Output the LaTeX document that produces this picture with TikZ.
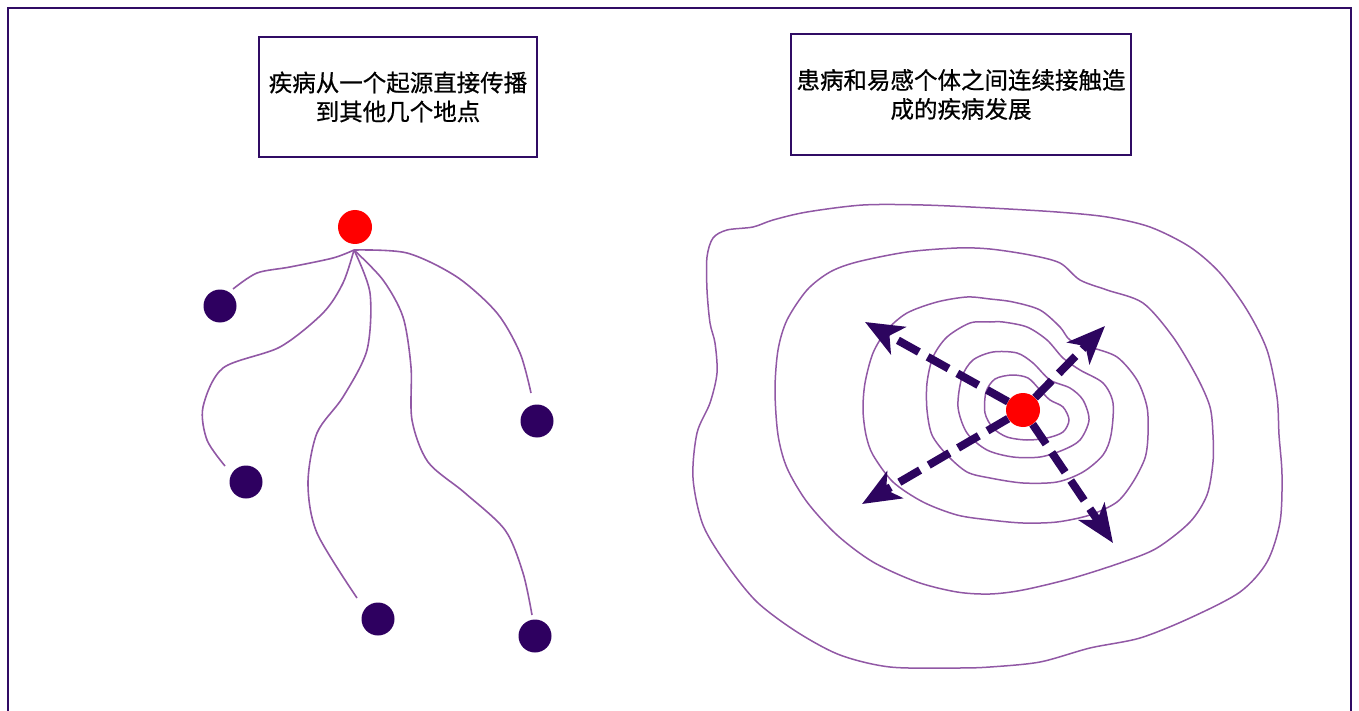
\documentclass[tikz,border=0pt]{standalone}
\usepackage{fontspec}
\newfontfamily\cjk[FakeBold=0.6]{Noto Sans CJK SC}
\usetikzlibrary{arrows.meta}
\definecolor{frameC}{RGB}{48,12,100}
\definecolor{dotC}{RGB}{46,0,96}
\definecolor{lineC}{RGB}{145,88,165}
\definecolor{arrC}{RGB}{45,5,95}
\tikzset{
  titlebox/.style={draw=frameC, line width=1.8pt, inner sep=0pt, align=center,
     font=\cjk\fontsize{23.5}{29}\selectfont, text=black},
  darkdot/.style={circle, fill=dotC, minimum size=33pt, inner sep=0pt},
  reddot/.style={circle, fill=red, minimum size=34pt, inner sep=0pt},
  wire/.style={draw=lineC, line width=1.6pt},
  contour/.style={draw=lineC, line width=1.5pt},
  spread/.style={draw=arrC, line width=8pt, dash pattern=on 24pt off 10pt,
     -{Stealth[length=38pt,width=31pt,inset=10pt]}}
}
\begin{document}
\begin{tikzpicture}[x=1pt,y=-1pt]
\useasboundingbox (0,0) rectangle (1359,711);
% outer frame (open at bottom)
\draw[frameC, line width=2.2pt] (8,711) -- (8,8) -- (1351,8) -- (1351,711);

% title boxes
\node[titlebox, minimum width=278pt, minimum height=120pt] (t1) at (398,97)
  {疾病从一个起源直接传播\\到其他几个地点};
\node[titlebox, minimum width=340pt, minimum height=121pt] (t2) at (961,94.5)
  {患病和易感个体之间连续接触造\\成的疾病发展};

% left: direct spread
\coordinate (hub) at (354,250);
\coordinate (e1) at (233,289);
\coordinate (e2) at (225,466);
\coordinate (e3) at (357,598);
\coordinate (e4) at (532,615);
\coordinate (e5) at (531,393);
\draw[wire] plot[smooth] coordinates {(hub) (333,258) (290,267) (257,273) (e1)};
\draw[wire] plot[smooth] coordinates {(hub) (343,283) (323,313) (280,347) (223,368) (203,407) (207,440) (e2)};
\draw[wire] plot[smooth] coordinates {(hub) (370,293) (367,350) (343,397) (317,433) (308,483) (317,533) (e3)};
\draw[wire] plot[smooth] coordinates {(hub) (383,280) (403,317) (411,367) (412,420) (428,462) (465,493) (505,530) (523,573) (e4)};
\draw[wire] plot[smooth] coordinates {(hub) (407,253) (457,277) (497,313) (520,353) (e5)};
\node[reddot] (src) at (355,227) {};
\node[darkdot] (d1) at (220,306) {};
\node[darkdot] (d2) at (246,482) {};
\node[darkdot] (d3) at (378,619) {};
\node[darkdot] (d4) at (535,636) {};
\node[darkdot] (d5) at (537,421) {};

% right: contours
\draw[contour] plot[smooth cycle] coordinates {(1012,375) (1028,378) (1040,390) (1050,400) (1063,407) (1069,420) (1063,432) (1047,438) (1027,440) (1007,437) (993,428) (985,413) (986,392) (995,379)};
\draw[contour] plot[smooth cycle] coordinates {(993,352) (1017,353) (1033,363) (1050,380) (1070,388) (1083,400) (1089,420) (1080,440) (1063,450) (1040,457) (1013,457) (987,450) (967,433) (958,407) (962,377) (973,360)};
\draw[contour] plot[smooth cycle] coordinates {(990,322) (1003,322) (1027,327) (1047,340) (1063,358) (1080,370) (1103,383) (1113,403) (1111,435) (1103,455) (1083,472) (1057,482) (1023,483) (990,478) (967,472) (947,455) (932,435) (927,410) (927,383) (933,357) (947,337) (970,323)};
\draw[contour] plot[smooth cycle] coordinates {(990,299) (1013,302) (1040,310) (1060,327) (1070,340) (1090,347) (1117,357) (1137,380) (1147,407) (1148,435) (1145,458) (1133,482) (1117,502) (1090,515) (1057,522) (1023,523) (990,520) (957,515) (923,502) (893,482) (873,455) (866,435) (863,410) (865,383) (873,353) (887,330) (907,313) (937,302) (967,297)};
\draw[contour] plot[smooth cycle] coordinates {(990,249) (1030,255) (1060,263) (1080,280) (1107,290) (1143,303) (1173,337) (1197,377) (1210,407) (1213,435) (1213,462) (1207,495) (1190,522) (1157,548) (1123,562) (1073,578) (1023,590) (990,594) (957,592) (917,582) (873,562) (837,535) (807,502) (787,468) (778,435) (775,390) (778,350) (787,320) (807,290) (830,272) (857,262) (907,252) (957,248)};
\draw[contour] plot[smooth cycle] coordinates {(990,208) (1057,212) (1107,217) (1150,227) (1190,247) (1220,273) (1247,310) (1267,350) (1277,397) (1279,435) (1282,475) (1280,522) (1267,562) (1240,592) (1190,618) (1140,638) (1090,648) (1040,662) (990,667) (957,668) (890,667) (840,655) (797,632) (757,602) (727,565) (703,525) (693,478) (697,433) (710,403) (717,373) (715,343) (710,323) (707,290) (707,257) (713,238) (727,230) (753,227) (773,220) (807,212) (863,205) (923,205)};

\node[reddot] (ctr) at (1023,410) {};
\coordinate (aUL) at (865,322);
\coordinate (aUR) at (1105,326);
\coordinate (aDL) at (862,504);
\coordinate (aDR) at (1113,543);
\draw[spread] (ctr) -- (aUL);
\draw[spread] (ctr) -- (aUR);
\draw[spread] (ctr) -- (aDL);
\draw[spread] (ctr) -- (aDR);
\end{tikzpicture}
\end{document}
